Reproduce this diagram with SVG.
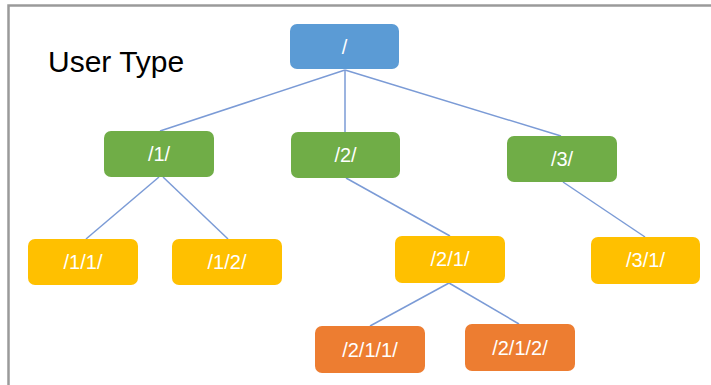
<svg xmlns="http://www.w3.org/2000/svg" width="711" height="385" viewBox="0 0 711 385">
<style>
.n rect{rx:7;ry:7}
.blue{fill:#5b9bd5}
.green{fill:#70ad47}
.yellow{fill:#ffc000}
.orange{fill:#ed7d31}
.n text{fill:#ffffff;font-family:"Liberation Sans",Arial,sans-serif;font-size:20px;text-anchor:middle}
#edges line{stroke:#7b9bd6;stroke-width:1.5}
</style>
<rect x="0" y="0" width="711" height="385" fill="#ffffff"/>
<path d="M8.5 385 V5.5 H711" fill="none" stroke="#9a9a9a" stroke-width="2.5"/>
<text x="48" y="72" font-family="'Liberation Sans',Arial,sans-serif" font-size="30" fill="#000000">User Type</text>
<g id="edges">
<line x1="345" y1="70" x2="160" y2="131"/>
<line x1="345" y1="70" x2="345" y2="132"/>
<line x1="345" y1="70" x2="561" y2="136"/>
<line x1="159" y1="177" x2="86" y2="239"/>
<line x1="163" y1="177" x2="228" y2="239"/>
<line x1="346" y1="178" x2="450" y2="236"/>
<line x1="563" y1="182" x2="645" y2="237"/>
<line x1="449" y1="283" x2="370" y2="326"/>
<line x1="449" y1="283" x2="519" y2="324"/>
</g>
<g id="root" class="n"><rect class="blue" x="290" y="24" width="109" height="45"/><text x="344.5" y="54">/</text></g>
<g id="n1" class="n"><rect class="green" x="104" y="131" width="110" height="46"/><text x="159" y="161">/1/</text></g>
<g id="n2" class="n"><rect class="green" x="291" y="132" width="109" height="46"/><text x="345.5" y="162">/2/</text></g>
<g id="n3" class="n"><rect class="green" x="507" y="136" width="110" height="46"/><text x="562" y="166">/3/</text></g>
<g id="n11" class="n"><rect class="yellow" x="28" y="239" width="110" height="46"/><text x="83" y="269">/1/1/</text></g>
<g id="n12" class="n"><rect class="yellow" x="172" y="239" width="110" height="46"/><text x="227" y="269">/1/2/</text></g>
<g id="n21" class="n"><rect class="yellow" x="395" y="236" width="110" height="47"/><text x="450" y="266">/2/1/</text></g>
<g id="n31" class="n"><rect class="yellow" x="591" y="237" width="109" height="47"/><text x="645.5" y="267">/3/1/</text></g>
<g id="n211" class="n"><rect class="orange" x="315" y="326" width="110" height="47"/><text x="370" y="357">/2/1/1/</text></g>
<g id="n212" class="n"><rect class="orange" x="465" y="324" width="110" height="47"/><text x="520" y="355">/2/1/2/</text></g>
</svg>
